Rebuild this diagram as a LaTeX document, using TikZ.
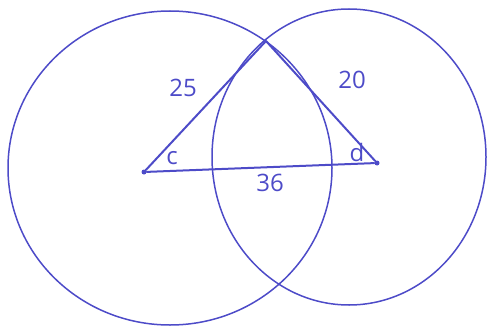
\documentclass[tikz,border=0pt]{standalone}
\usepackage{fontspec}
\setmainfont{Open Sans}
\usepackage{tikz}
\usetikzlibrary{positioning,calc}
\definecolor{PenBlue}{HTML}{4D4BC8}

\begin{document}
\begin{tikzpicture}[x=1pt,y=-1pt]
\tikzset{pen/.style={PenBlue,line width=1.5pt},side/.style={PenBlue,line width=2pt,line cap=round},lab/.style={text=PenBlue,font=\fontsize{24}{24}\selectfont,inner sep=0pt},dot/.style={circle,fill=PenBlue,inner sep=0pt,minimum size=5pt}}
\useasboundingbox (0,0) rectangle (487,329);
\draw[pen] (170,168) ellipse [x radius=162,y radius=157];
\draw[pen] (349,157) ellipse [x radius=137,y radius=148];
\node[dot] (c) at (144,172) {};
\node[dot] (d) at (377,163) {};
\coordinate (t) at (266,41);
\draw[side] (c)--(t);\draw[side] (t)--(d);\draw[side] (c)--(d);
\node[lab] (l25) at (183,88) {25};
\node[lab] (l20) at (352,80) {20};
\node[lab] (l36) at (270,183) {36};
\node[lab] (lc) at (172,158) {c};
\node[lab] (ld) at (357,152) {d};
\end{tikzpicture}
\end{document}
